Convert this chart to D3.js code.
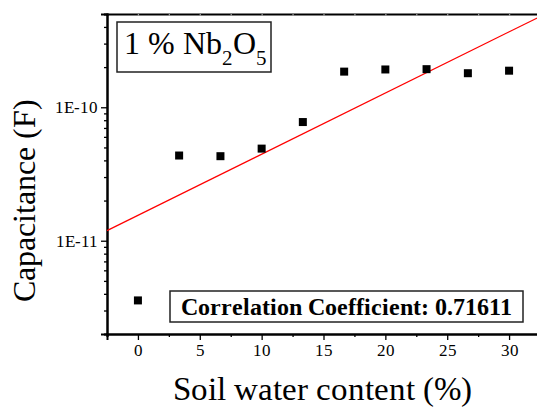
<!DOCTYPE html>
<html>
<head>
<meta charset="utf-8">
<script src="https://cdn.jsdelivr.net/npm/d3@7"></script>
<style>
  @font-face { font-family: "ChartSerif"; src: local("Liberation Serif"), local("LiberationSerif"), local("Tinos"); font-weight: normal; }
  @font-face { font-family: "ChartSerif"; src: local("Liberation Serif Bold"), local("LiberationSerif-Bold"), local("Tinos Bold"); font-weight: bold; }
</style>
</head>
<body style="margin:0">
<div id="chart"></div>
<script>
// data
const waterContent = [0, 3.33, 6.67, 10, 13.33, 16.67, 20, 23.33, 26.67, 30];
const capacitance = [3.57e-12, 4.35e-11, 4.3e-11, 4.9e-11, 7.75e-11, 1.85e-10, 1.92e-10, 1.93e-10, 1.8e-10, 1.88e-10];
const fitX = [-2.5, 32.5];
const fitY = [1.19e-11, 4.78e-10];
const xTicks = [0, 5, 10, 15, 20, 25, 30];
const yTicks = [1e-11, 1e-10];
const yTickLabels = ["1E-11", "1E-10"];

const width = 537, height = 411;
const plotLeft = 107, plotRight = 540, plotTop = 14, plotBottom = 334;
const serifFont = '"ChartSerif", "Liberation Serif", Tinos, "Times New Roman"';

const svg = d3.select("#chart").append("svg")
  .attr("width", width)
  .attr("height", height)
  .style("font-family", serifFont);

const x = d3.scaleLinear().domain([-2.5, 32.5]).range([plotLeft, plotRight]);
const y = d3.scaleLog().domain([2e-12, 5e-10]).range([plotBottom, plotTop]);

// minor ticks
const xMinor = d3.range(-2.5, 33, 2.5).filter(v => xTicks.indexOf(v) < 0);
const yMinor = [];
[1e-12, 1e-11, 1e-10].forEach(d => {
  for (let k = 2; k <= 9; k++) {
    const v = k * d;
    if (v >= 2e-12 && v <= 5e-10) yMinor.push(v);
  }
});

function styleAxis(g) {
  g.attr("font-family", null).attr("font-size", null);
  g.selectAll("path.domain").attr("stroke", "#000").attr("stroke-width", 2);
  g.selectAll(".tick line").attr("stroke", "#000").attr("stroke-width", 1.3);
  g.selectAll(".tick text")
    .style("font-family", serifFont)
    .style("font-size", "16.5px")
    .attr("fill", "#000");
}

// bottom axis
svg.append("g")
  .attr("transform", `translate(0,${plotBottom})`)
  .call(d3.axisBottom(x).tickValues(xMinor).tickSize(3).tickFormat(""))
  .call(styleAxis);
svg.append("g")
  .attr("transform", `translate(0,${plotBottom})`)
  .call(d3.axisBottom(x).tickValues(xTicks).tickSize(6).tickPadding(4).tickFormat(d3.format("d")))
  .call(styleAxis);

// top axis
svg.append("g")
  .attr("transform", `translate(0,${plotTop})`)
  .call(d3.axisBottom(x).tickValues(xTicks.concat(xMinor)).tickSize(2).tickFormat(""))
  .call(styleAxis)
  .call(g => g.selectAll(".tick line").attr("stroke", "#999"));

// left axis
svg.append("g")
  .attr("transform", `translate(${plotLeft},0)`)
  .call(d3.axisLeft(y).tickValues(yMinor).tickSize(3).tickFormat(""))
  .call(styleAxis);
svg.append("g")
  .attr("transform", `translate(${plotLeft},0)`)
  .call(d3.axisLeft(y).tickValues(yTicks).tickSize(6).tickPadding(3)
    .tickFormat((d, i) => yTickLabels[i]))
  .call(styleAxis);

// fit line
const line = d3.line().x(d => x(d[0])).y(d => y(d[1]));
svg.append("path")
  .datum(fitX.map((v, i) => [v, fitY[i]]))
  .attr("d", line)
  .attr("fill", "none")
  .attr("stroke", "#ff0000")
  .attr("stroke-width", 1.2);

// points
const s = 8;
svg.selectAll("rect.pt")
  .data(waterContent.map((v, i) => [v, capacitance[i]]))
  .enter()
  .append("rect")
    .attr("class", "pt")
    .attr("x", d => x(d[0]) - s / 2)
    .attr("y", d => y(d[1]) - s / 2)
    .attr("width", s)
    .attr("height", s)
    .attr("fill", "#000");

// title box
svg.append("rect")
  .attr("x", 117).attr("y", 22).attr("width", 154).attr("height", 50)
  .attr("fill", "#fff").attr("stroke", "#222").attr("stroke-width", 1.5);
const title = svg.append("text")
  .attr("x", 124).attr("y", 54)
  .style("font-family", serifFont)
  .style("font-size", "32px");
title.append("tspan").text("1 % Nb");
title.append("tspan").attr("dy", 11).style("font-size", "21px").text("2");
title.append("tspan").attr("dy", -11).text("O");
title.append("tspan").attr("dy", 11).style("font-size", "21px").text("5");

// correlation box
svg.append("rect")
  .attr("x", 170).attr("y", 291).attr("width", 353).attr("height", 31)
  .attr("fill", "#fff").attr("stroke", "#222").attr("stroke-width", 1.5);
svg.append("text")
  .attr("x", 346.5).attr("y", 315)
  .attr("text-anchor", "middle")
  .style("font-family", serifFont)
  .style("font-size", "24px")
  .style("font-weight", "bold")
  .text("Correlation Coefficient: 0.71611");

// axis titles
svg.append("text")
  .attr("x", 322).attr("y", 400)
  .attr("text-anchor", "middle")
  .style("font-family", serifFont)
  .style("font-size", "32.5px")
  .text("Soil water content (%)");
svg.append("text")
  .attr("transform", "translate(35,200) rotate(-90)")
  .attr("text-anchor", "middle")
  .style("font-family", serifFont)
  .style("font-size", "32px")
  .text("Capacitance (F)");
</script>
</body>
</html>
